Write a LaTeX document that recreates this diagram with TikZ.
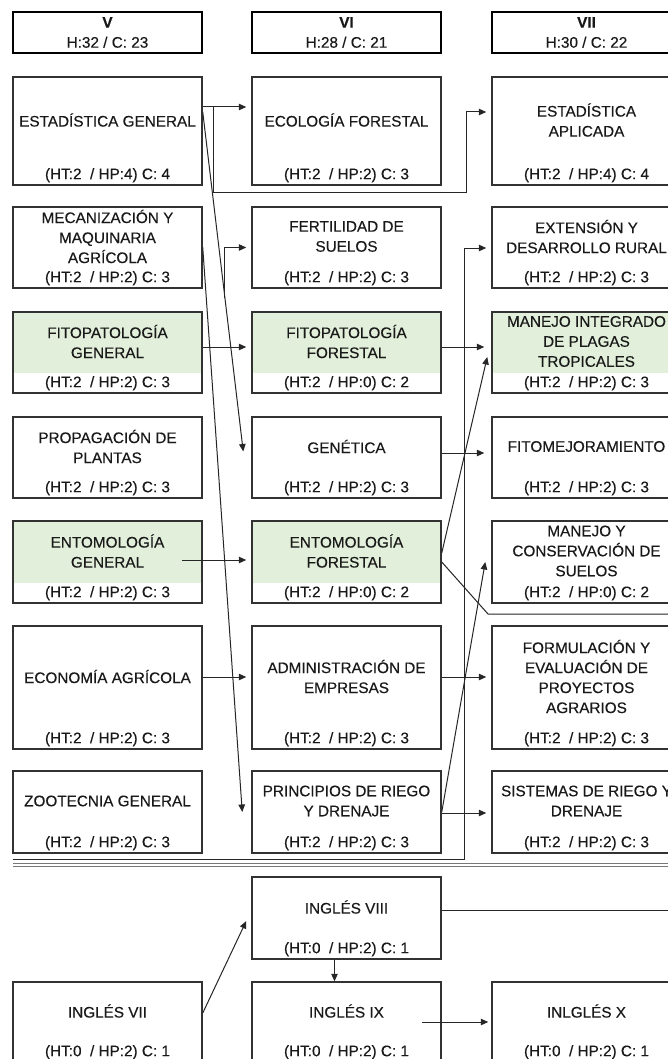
\documentclass[tikz,border=0pt]{standalone}
\usepackage{fontspec}
\setmainfont[FakeBold=0.35]{Liberation Sans}
\usetikzlibrary{arrows.meta,calc}
\definecolor{gfill}{RGB}{226,239,218}
\definecolor{bord}{RGB}{50,50,50}
\definecolor{txt}{RGB}{25,25,25}
\definecolor{sepc}{RGB}{120,120,120}
\newcommand\fs{\fontsize{15.3}{20}\selectfont}
\newcommand\crs[6]{%
  \node[box,minimum height=#4pt] (#1) at ({#2+94.5},{#3+#4/2}) {};
  \node[ttl] (#1t) at ([yshift=11pt]#1.center) {#5};
  \node[htl] (#1h) at ([yshift=10.5pt]#1.south) {#6};}
\newcommand\gbg[3]{\fill[gfill] ({#1+1},{#2+1}) rectangle ({#1+188},{#2+#3-20});}
\begin{document}
\begin{tikzpicture}[x=1pt,y=-1pt,
  box/.style={draw=bord,line width=1.5pt,minimum width=189pt,inner sep=0pt,rectangle},
  ttl/.style={align=center,font=\fs,text=txt,inner sep=0pt},
  htl/.style={font=\fs,text=txt,inner sep=0pt},
  hdr/.style={draw=black,line width=2.8pt,minimum width=189pt,minimum height=41pt,align=center,font=\fs,text=txt,inner sep=0pt},
  arr/.style={-{Triangle[length=7.5pt,width=6.5pt]},line width=1pt,draw=black!85},
  ln/.style={line width=1pt,draw=black!85}]
\useasboundingbox (0,0) rectangle (668,1059);
\clip (0,0) rectangle (668,1059);
\fill[white] (0,0) rectangle (668,1059);
% headers
\node[hdr] (h5) at (107.5,32.5) {\textbf{V}\\H:32 / C: 23};
\node[hdr] (h6) at (346.5,32.5) {\textbf{VI}\\H:28 / C: 21};
\node[hdr] (h7) at (586.5,32.5) {\textbf{VII}\\H:30 / C: 22};
% green backgrounds
\gbg{13}{312}{81}\gbg{252}{312}{81}\gbg{492}{312}{81}
\gbg{13}{521}{82}\gbg{252}{521}{82}
% row 1
\crs{eg}{13}{77}{108}{ESTADÍSTICA GENERAL}{(HT:2~ / HP:4) C: 4}
\crs{ecol}{252}{77}{108}{ECOLOGÍA FORESTAL}{(HT:2~ / HP:2) C: 3}
\crs{ea}{492}{77}{108}{ESTADÍSTICA\\APLICADA}{(HT:2~ / HP:4) C: 4}
% row 2
\crs{mec}{13}{207}{81}{MECANIZACIÓN Y\\MAQUINARIA\\AGRÍCOLA}{(HT:2~ / HP:2) C: 3}
\crs{fert}{252}{207}{81}{FERTILIDAD DE\\SUELOS}{(HT:2~ / HP:2) C: 3}
\crs{ext}{492}{207}{81}{EXTENSIÓN Y\\DESARROLLO RURAL}{(HT:2~ / HP:2) C: 3}
% row 3
\crs{fg}{13}{312}{81}{FITOPATOLOGÍA\\GENERAL}{(HT:2~ / HP:2) C: 3}
\crs{ff}{252}{312}{81}{FITOPATOLOGÍA\\FORESTAL}{(HT:2~ / HP:0) C: 2}
\crs{mip}{492}{312}{81}{MANEJO INTEGRADO\\DE PLAGAS\\TROPICALES}{(HT:2~ / HP:2) C: 3}
% row 4
\crs{prop}{13}{417}{81}{PROPAGACIÓN DE\\PLANTAS}{(HT:2~ / HP:2) C: 3}
\crs{gen}{252}{417}{81}{GENÉTICA}{(HT:2~ / HP:2) C: 3}
\crs{fm}{492}{417}{81}{FITOMEJORAMIENTO}{(HT:2~ / HP:2) C: 3}
% row 5
\crs{eng}{13}{521}{82}{ENTOMOLOGÍA\\GENERAL}{(HT:2~ / HP:2) C: 3}
\crs{enf}{252}{521}{82}{ENTOMOLOGÍA\\FORESTAL}{(HT:2~ / HP:0) C: 2}
\crs{mcs}{492}{521}{82}{MANEJO Y\\CONSERVACIÓN DE\\SUELOS}{(HT:2~ / HP:0) C: 2}
% row 6
\crs{econ}{13}{626}{123}{ECONOMÍA AGRÍCOLA}{(HT:2~ / HP:2) C: 3}
\crs{adm}{252}{626}{123}{ADMINISTRACIÓN DE\\EMPRESAS}{(HT:2~ / HP:2) C: 3}
\crs{form}{492}{626}{123}{FORMULACIÓN Y\\EVALUACIÓN DE\\PROYECTOS\\AGRARIOS}{(HT:2~ / HP:2) C: 3}
% row 7
\crs{zoo}{13}{771}{82}{ZOOTECNIA GENERAL}{(HT:2~ / HP:2) C: 3}
\crs{prin}{252}{771}{82}{PRINCIPIOS DE RIEGO\\Y DRENAJE}{(HT:2~ / HP:2) C: 3}
\crs{srd}{492}{771}{82}{SISTEMAS DE RIEGO Y\\DRENAJE}{(HT:2~ / HP:2) C: 3}
% separator
\draw[sepc,line width=1pt] (13,863) -- (680,863);
\draw[sepc,line width=1pt] (13,866.5) -- (680,866.5);
% english
\crs{i8}{252}{877}{82}{INGLÉS VIII}{(HT:0~ / HP:2) C: 1}
\crs{i7}{13}{982}{80}{INGLÉS VII}{(HT:0~ / HP:2) C: 1}
\crs{i9}{252}{982}{80}{INGLÉS IX}{(HT:0~ / HP:2) C: 1}
\crs{i10}{492}{982}{80}{INLGLÉS X}{(HT:0~ / HP:2) C: 1}
% connectors V -> VI
\draw[arr,shorten >=5pt] (eg.east |- 0,107) -- (ecol.west |- 0,107);
\draw[arr,shorten >=5pt] (eg.east |- 0,107) -| (213,193) -| (466,112) -- (ea.west |- 0,112);
\coordinate (c3s) at (eg.east |- 0,112);
\coordinate (c3e) at ($(gen.west)+(-8,-6)$);
\draw[arr] (c3s) -- (c3e);
\coordinate (br) at ($(c3s)!0.547!(c3e)$);
\draw[arr,shorten >=5pt] (br) |- (fert.west);
\draw[arr] (mec.east) -- ($(prin.west)+(-9,0)$);
\draw[arr,shorten >=5pt] (fg.east |- 0,347) -- (ff.west |- 0,347);
\draw[arr,shorten >=5pt] ($(eng.east)+(-21,-2)$) -- (enf.west |- 0,560);
\draw[arr,shorten >=5pt] (econ.east |- 0,677) -- (adm.west |- 0,677);
% connectors VI -> VII
\draw[arr,shorten >=7pt] (ff.east |- 0,347) -- (mip.west |- 0,347);
\draw[arr] ($(enf.east)+(0,-9)$) -- ($(mip.west)+(-4,4.5)$);
\coordinate (c11s) at (13,859);
\draw[arr,shorten >=5pt] (c11s) -| (464,248) -- (ext.west |- 0,248);
\coordinate (off1) at (680,614);
\draw[ln] (enf.east) -- (488,614) -- (off1);
\draw[arr,shorten >=7pt] (gen.east |- 0,453) -- (fm.west |- 0,453);
\draw[arr] (prin.east) -- ($(mcs.west)+(-6,0)$);
\draw[arr,shorten >=5pt] (adm.east |- 0,677) -- (form.west |- 0,677);
\draw[arr,shorten >=5pt] (prin.east |- 0,813) -- (srd.west |- 0,813);
% english connectors
\draw[arr] (i7.east |- 0,1013) -- ($(i8.west)+(-5,3)$);
\draw[arr] ($(i8.south)+(-12,0)$) -- ($(i9.north)+(-12,0)$);
\draw[arr,shorten >=3pt] ($(i9.east)+(-20,0)$) -- (i10.west);
\coordinate (off2) at (680,910);
\draw[ln] (i8.east |- 0,910) -- (off2);
\end{tikzpicture}
\end{document}
